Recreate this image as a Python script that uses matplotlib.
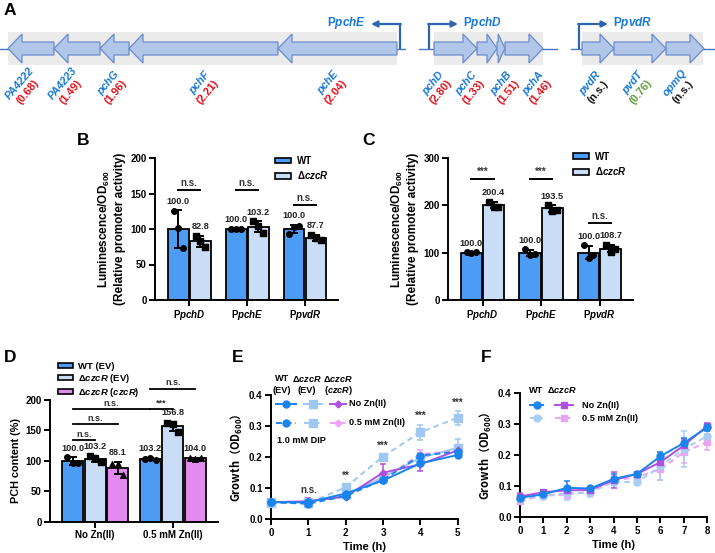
import numpy as np
import matplotlib
matplotlib.use('Agg')
import matplotlib.pyplot as plt
from matplotlib.patches import Polygon, Rectangle, Patch

# ======================= DATA =======================
# Panel A: gene map (map coordinates) and fold changes
gene_names = ['PA4222', 'PA4223', 'pchG', 'pchF', 'pchE',
              'pchD', 'pchC', 'pchB', 'pchA', 'pvdR', 'pvdT', 'opmQ']
gene_start = [8, 54, 100, 129, 278, 434, 477, 497, 505, 582, 614, 666]
gene_end = [54, 100, 129, 278, 397, 477, 497, 505, 543, 614, 666, 704]
gene_strand = [-1, -1, -1, -1, -1, 1, 1, 1, 1, 1, 1, 1]
gene_fold = ['(0.68)', '(1.49)', '(1.96)', '(2.21)', '(2.04)', '(2.80)',
             '(1.33)', '(1.51)', '(1.46)', '(n.s.)', '(0.76)', '(n.s.)']
gene_fold_class = ['sig', 'sig', 'sig', 'sig', 'sig', 'sig',
                   'sig', 'sig', 'sig', 'ns', 'down', 'ns']
operon_line = [(0, 405), (419, 557), (571, 715)]
operon_box = [(8, 397), (434, 543), (582, 703)]
promoter_names = ['pchE', 'pchD', 'pvdR']
promoter_pos = [400, 429, 579]
promoter_dir = [-1, 1, 1]

# Panels B, C: promoter activity
promoters = ['pchD', 'pchE', 'pvdR']
B_wt_mean = [100.0, 100.0, 100.0]
B_mut_mean = [82.8, 103.2, 87.7]
B_wt_pts = [[125.0, 102.0, 73.0], [100.4, 99.6, 100.0], [93.0, 103.0, 104.0]]
B_mut_pts = [[90.0, 83.4, 75.0], [111.0, 103.6, 95.0], [92.0, 87.0, 84.1]]
B_sig = ['n.s.', 'n.s.', 'n.s.']

C_wt_mean = [100.0, 100.0, 100.0]
C_mut_mean = [200.4, 193.5, 108.7]
C_wt_pts = [[100.5, 99.0, 100.5], [107.0, 96.0, 97.0], [116.0, 89.0, 95.0]]
C_mut_pts = [[208.0, 196.0, 197.2], [201.0, 188.5, 191.0], [117.0, 101.0, 108.1]]
C_sig = ['***', '***', 'n.s.']

# Panel D: PCH content
D_conditions = ['No Zn(II)', '0.5 mM Zn(II)']
D_strains = ['WT (EV)', 'Δ$\\it{czcR}$ (EV)', 'Δ$\\it{czcR}$ ($\\it{czcR}$)']
D_means = [[100.0, 103.2], [103.2, 156.8], [88.1, 104.0]]
D_pts = [[[107.0, 97.0, 96.0], [103.5, 105.0, 101.1]],
         [[108.0, 104.0, 97.6], [161.5, 161.0, 148.0]],
         [[94.2, 94.2, 76.0], [104.0, 103.0, 105.0]]]
D_comparisons = [((0, 0), (0, 1), 'n.s.'), ((0, 0), (0, 2), 'n.s.'),
                 ((0, 0), (1, 0), 'n.s.'), ((1, 0), (1, 1), '***'),
                 ((1, 0), (1, 2), 'n.s.')]

# Panel E: growth with 1.0 mM DIP
E_time = [0, 1, 2, 3, 4, 5]
E_wt = [0.055, 0.055, 0.083, 0.125, 0.180, 0.207]
E_wt_sd = [0.003, 0.004, 0.005, 0.008, 0.010, 0.006]
E_wt_zn = [0.055, 0.050, 0.075, 0.127, 0.205, 0.218]
E_wt_zn_sd = [0.003, 0.004, 0.004, 0.006, 0.008, 0.008]
E_ev = [0.055, 0.055, 0.080, 0.135, 0.198, 0.230]
E_ev_sd = [0.003, 0.005, 0.005, 0.008, 0.010, 0.028]
E_ev_zn = [0.054, 0.052, 0.103, 0.202, 0.280, 0.327]
E_ev_zn_sd = [0.003, 0.004, 0.010, 0.008, 0.025, 0.022]
E_cz = [0.055, 0.058, 0.073, 0.150, 0.177, 0.222]
E_cz_sd = [0.003, 0.010, 0.004, 0.027, 0.020, 0.010]
E_cz_zn = [0.055, 0.054, 0.075, 0.130, 0.210, 0.220]
E_cz_zn_sd = [0.003, 0.004, 0.004, 0.006, 0.012, 0.008]
E_sig_time = [1, 2, 3, 4, 5]
E_sig = ['n.s.', '**', '***', '***', '***']

# Panel F: growth
F_time = [0, 1, 2, 3, 4, 5, 6, 7, 8]
F_wt = [0.063, 0.074, 0.095, 0.093, 0.124, 0.140, 0.197, 0.240, 0.290]
F_wt_sd = [0.010, 0.006, 0.022, 0.006, 0.015, 0.005, 0.015, 0.015, 0.012]
F_wt_zn = [0.060, 0.070, 0.077, 0.080, 0.115, 0.113, 0.165, 0.220, 0.262]
F_wt_zn_sd = [0.008, 0.005, 0.020, 0.015, 0.012, 0.008, 0.045, 0.058, 0.020]
F_cz = [0.067, 0.081, 0.087, 0.088, 0.120, 0.140, 0.178, 0.232, 0.295]
F_cz_sd = [0.010, 0.005, 0.010, 0.006, 0.025, 0.006, 0.020, 0.020, 0.010]
F_cz_zn = [0.053, 0.070, 0.073, 0.083, 0.118, 0.130, 0.155, 0.210, 0.243]
F_cz_zn_sd = [0.008, 0.006, 0.010, 0.010, 0.015, 0.008, 0.035, 0.035, 0.025]

# ======================= STYLE =======================
plt.rcParams['font.family'] = ['Liberation Sans', 'DejaVu Sans']
plt.rcParams['font.weight'] = 'bold'
plt.rcParams['axes.labelweight'] = 'bold'
plt.rcParams['mathtext.fontset'] = 'custom'
plt.rcParams['mathtext.rm'] = 'Liberation Sans:bold'
plt.rcParams['mathtext.it'] = 'Liberation Sans:bold:italic'
plt.rcParams['mathtext.bf'] = 'Liberation Sans:bold'
plt.rcParams['mathtext.default'] = 'regular'

C_WT = '#4C9BF5'
C_MUT = '#C9DDF6'
C_COMP = '#E38AF0'
L_WT = '#1A84EE'
L_EV = '#9EC7F2'
L_CZ = '#B14FE0'
L_CZZN = '#EBA5F4'
L_WTZN_F = '#A9CDF3'
GENE_BLUE = '#1878D6'
FOLD_COLORS = {'sig': '#E3101B', 'down': '#5E9C3B', 'ns': '#111111'}
VAL_FS = 6.6
SIG_FS = 7
TICK_FS = 7

W, H = 715, 553
fig = plt.figure(figsize=(W / 100, H / 100), dpi=100)


def px_axes(l, t, r, b):
    return fig.add_axes([l / W, 1 - b / H, (r - l) / W, (b - t) / H])


def style_axes(ax, tick_size=TICK_FS):
    for s in ['top', 'right']:
        ax.spines[s].set_visible(False)
    for s in ['left', 'bottom']:
        ax.spines[s].set_linewidth(1.4)
    ax.tick_params(direction='out', length=4, width=1.4, labelsize=tick_size, pad=2)


# ======================= PANEL A =======================
axA = px_axes(0, 0, W, 120)
axA.set_xlim(0, W)
axA.set_ylim(120, 0)
axA.axis('off')
YC = 48.5
for (x0, x1) in operon_box:
    axA.add_patch(Rectangle((x0, 32), x1 - x0, 33, color='#EBEBEB', lw=0, zorder=0))
for (x0, x1) in operon_line:
    axA.plot([x0, x1], [YC, YC], color='#4A76C5', lw=1.0, zorder=1)


def arrow_poly(x0, x1, strand, bh=6.5, hh=14.5):
    L = x1 - x0
    hl = min(14, 0.5 * L) if L >= 12 else 0.85 * L
    if strand > 0:
        return [(x0, YC - bh), (x1 - hl, YC - bh), (x1 - hl, YC - hh), (x1, YC),
                (x1 - hl, YC + hh), (x1 - hl, YC + bh), (x0, YC + bh)]
    return [(x1, YC - bh), (x0 + hl, YC - bh), (x0 + hl, YC - hh), (x0, YC),
            (x0 + hl, YC + hh), (x0 + hl, YC + bh), (x1, YC + bh)]


label_x = [20, 63, 108, 200, 328, 433, 466, 501, 533, 590, 633, 675]
for i, name in enumerate(gene_names):
    axA.add_patch(Polygon(arrow_poly(gene_start[i], gene_end[i], gene_strand[i]),
                          closed=True, facecolor='#B1C6E8', edgecolor='#6A8CCB',
                          lw=0.9, zorder=2))
    axA.text(label_x[i], 83, name, rotation=50, ha='center', va='center',
             rotation_mode='anchor', fontsize=7.8, fontstyle='italic',
             fontweight='bold', color=GENE_BLUE)
    axA.text(label_x[i] + 8, 92, gene_fold[i], rotation=50, ha='center', va='center',
             rotation_mode='anchor', fontsize=7.8, fontweight='bold',
             color=FOLD_COLORS[gene_fold_class[i]])

for name, x, d in zip(promoter_names, promoter_pos, promoter_dir):
    axA.plot([x, x], [YC, 24], color='#2E64B5', lw=1.6, zorder=3, solid_capstyle='butt')
    axA.annotate('', xy=(x + d * 29, 24), xytext=(x - d * 0.8, 24),
                 arrowprops=dict(arrowstyle='-|>', lw=1.6, color='#2E64B5',
                                 mutation_scale=9, shrinkA=0, shrinkB=0))
    tx = x + d * 34
    axA.text(tx, 23, 'P$\\it{' + name + '}$', ha='left' if d > 0 else 'right',
             va='center', fontsize=8.5, fontweight='bold', color=GENE_BLUE)


# ======================= PANELS B, C =======================
def promoter_panel(ax, wt_mean, mut_mean, wt_pts, mut_pts, sig, sig_y, ymax, ystep,
                   sig_text_off, legend_xy):
    off, bw = 0.19, 0.36
    x = np.arange(len(promoters))
    pt_off = np.array([-0.08, 0.0, 0.08])
    for xi_off, means, pts, col, mk in [(-off, wt_mean, wt_pts, C_WT, 'o'),
                                        (off, mut_mean, mut_pts, C_MUT, 's')]:
        xs = x + xi_off
        ax.bar(xs, means, width=bw, color=col, edgecolor='black', lw=1.3, zorder=2)
        sds = [np.std(p, ddof=1) for p in pts]
        ax.errorbar(xs, means, yerr=sds, fmt='none', ecolor='black', elinewidth=1.4,
                    capsize=3.2, capthick=1.4, zorder=3)
        for i in range(len(x)):
            ax.scatter(xs[i] + pt_off, pts[i], marker=mk, s=16, color='black',
                       zorder=4, clip_on=False)
            top = means[i] + sds[i]
            ax.annotate(f'{means[i]:.1f}', (xs[i], top), xytext=(0, 6.5),
                        textcoords='offset points', ha='center', va='center',
                        fontsize=VAL_FS, fontweight='bold', color='#222222')
    for i in range(len(x)):
        ax.plot([x[i] - off, x[i] + off], [sig_y[i], sig_y[i]], color='black', lw=1.4)
        ax.text(x[i], sig_y[i] + sig_text_off, sig[i], ha='center', va='center',
                fontsize=SIG_FS, fontweight='bold', color='#333333')
    ax.set_xlim(-0.59, 2.57)
    ax.set_ylim(0, ymax)
    ax.set_yticks(np.arange(0, ymax + 1, ystep))
    ax.set_xticks(x)
    ax.set_xticklabels(['P$\\it{' + p + '}$' for p in promoters], fontsize=7.5)
    style_axes(ax)
    ax.set_ylabel('Luminescence/OD$_{600}$\n(Relative promoter activity)',
                  fontsize=8.5, labelpad=3, linespacing=1.3)
    handles = [Patch(facecolor=C_WT, edgecolor='black', lw=1.2, label='WT'),
               Patch(facecolor=C_MUT, edgecolor='black', lw=1.2, label='Δ$\\it{czcR}$')]
    ax.legend(handles=handles, loc='upper left', bbox_to_anchor=legend_xy,
              frameon=False, fontsize=7, handlelength=1.7, handleheight=0.55,
              handletextpad=0.6, labelspacing=0.35, borderpad=0, borderaxespad=0)


axB = px_axes(155, 158, 338, 300)
promoter_panel(axB, B_wt_mean, B_mut_mean, B_wt_pts, B_mut_pts, B_sig,
               [155, 155, 134], 200, 50, 10, (0.655, 1.015))
axC = px_axes(448, 158, 633, 300)
promoter_panel(axC, C_wt_mean, C_mut_mean, C_wt_pts, C_mut_pts, C_sig,
               [256, 256, 163], 300, 100, 14, (0.675, 1.045))

# ======================= PANEL D =======================
axD = px_axes(50, 400, 218, 521.7)
d_off, d_bw = 0.29, 0.27
xg = np.arange(len(D_conditions))
d_cols = [C_WT, C_MUT, C_COMP]
d_marks = ['o', 's', '^']
pt_off = np.array([-0.07, 0.0, 0.07])


def d_x(cond, strain):
    return xg[cond] + (strain - 1) * d_off


for s in range(len(D_strains)):
    xs = xg + (s - 1) * d_off
    sds = [np.std(p, ddof=1) for p in D_pts[s]]
    axD.bar(xs, D_means[s], width=d_bw, color=d_cols[s], edgecolor='black', lw=1.3, zorder=2)
    axD.errorbar(xs, D_means[s], yerr=sds, fmt='none', ecolor='black', elinewidth=1.4,
                 capsize=3, capthick=1.4, zorder=3)
    for c in range(len(D_conditions)):
        axD.scatter(xs[c] + pt_off, D_pts[s][c], marker=d_marks[s], s=16, color='black', zorder=4)
        axD.annotate(f'{D_means[s][c]:.1f}', (xs[c], D_means[s][c] + sds[c]), xytext=(0, 6.5),
                     textcoords='offset points', ha='center', va='center',
                     fontsize=VAL_FS, fontweight='bold', color='#222222')
d_sig_y = [134, 160, 185, 185, 218]
for (a, b, lab), yy in zip(D_comparisons, d_sig_y):
    x0, x1 = d_x(*a), d_x(*b)
    axD.plot([x0, x1], [yy, yy], color='black', lw=1.3, clip_on=False)
    axD.text((x0 + x1) / 2, yy + (3 if lab == '***' else 10), lab, ha='center',
             va='bottom' if lab == '***' else 'center', fontsize=SIG_FS - 0.5,
             fontweight='bold', color='#333333', clip_on=False)
axD.set_xlim(-0.58, 1.58)
axD.set_ylim(0, 200)
axD.set_yticks([0, 50, 100, 150, 200])
axD.set_xticks(xg)
axD.set_xticklabels(D_conditions, fontsize=6.8)
style_axes(axD)
axD.set_ylabel('PCH content (%)', fontsize=7.8, labelpad=3)
handles = [Patch(facecolor=c, edgecolor='black', lw=1.2, label=l) for c, l in zip(d_cols, D_strains)]
axD.legend(handles=handles, loc='upper left', bbox_to_anchor=(0.045, 1.31), frameon=False,
           fontsize=6.8, handlelength=1.6, handleheight=0.45, handletextpad=0.6,
           labelspacing=0.08, borderpad=0, borderaxespad=0)

# ======================= PANEL E =======================
axE = px_axes(271, 395, 457.7, 519.3)
e_series = [
    (E_ev, E_ev_sd, L_EV, 's', '-', 5.5),
    (E_ev_zn, E_ev_zn_sd, L_EV, 's', '--', 5.5),
    (E_cz_zn, E_cz_zn_sd, L_CZZN, 'D', '--', 3.5),
    (E_cz, E_cz_sd, L_CZ, 'D', '-', 3.5),
    (E_wt_zn, E_wt_zn_sd, L_WT, 'o', '--', 5),
    (E_wt, E_wt_sd, L_WT, 'o', '-', 5),
]
for ys, sd, col, mk, ls, ms in e_series:
    axE.errorbar(E_time, ys, yerr=sd, color=col, marker=mk, ms=ms, ls=ls, lw=1.4,
                 elinewidth=1.1, capsize=2.5, capthick=1.1,
                 dashes=(3, 2) if ls == '--' else (None, None), clip_on=False, zorder=3)
all_top = np.max([np.array(s[0]) + np.array(s[1]) for s in e_series], axis=0)
for t, lab in zip(E_sig_time, E_sig):
    axE.text(t, all_top[t] + 0.027, lab, ha='center', va='center', fontsize=SIG_FS,
             fontweight='bold', color='#333333', clip_on=False)
axE.set_xlim(0, 5)
axE.set_ylim(0, 0.4)
axE.set_xticks(E_time)
axE.set_yticks([0.0, 0.1, 0.2, 0.3, 0.4])
axE.set_yticklabels(['0.0', '0.1', '0.2', '0.3', '0.4'])
style_axes(axE)
axE.set_xlabel('Time (h)', fontsize=8, labelpad=3)
axE.set_ylabel('Growth（OD$_{600}$）', fontsize=8, labelpad=3,
               fontfamily='Noto Sans CJK SC', fontweight='bold')


def legend_row(ax, x0, x1, y, col, mk, ls, ms):
    ax.plot([x0, (x0 + x1) / 2, x1], [y, y, y], color=col, ls=ls, lw=1.4, marker=mk,
            ms=ms, markevery=[1], clip_on=False, dashes=(3, 2) if ls == '--' else (None, None))


LEG_FS = 6.6
for ls, yrow, txt in [('-', 0.372, 'No Zn(II)'), ('--', 0.311, '0.5 mM Zn(II)')]:
    legend_row(axE, 0.13, 0.67, yrow, L_WT, 'o', ls, 5)
    legend_row(axE, 0.88, 1.37, yrow, L_EV, 's', ls, 5.5)
    legend_row(axE, 1.58, 2.0, yrow, L_CZ if ls == '-' else L_CZZN, 'D', ls, 3.5)
    axE.text(2.1, yrow, txt, ha='left', va='center', fontsize=LEG_FS, fontweight='bold')
for xh, l1, l2 in [(0.29, 'WT', '(EV)'), (0.97, 'Δ$\\it{czcR}$', '(EV)'),
                   (1.8, 'Δ$\\it{czcR}$', '($\\it{czcR}$)')]:
    axE.text(xh, 0.452, l1, ha='center', va='center', fontsize=LEG_FS, fontweight='bold', clip_on=False)
    axE.text(xh, 0.414, l2, ha='center', va='center', fontsize=LEG_FS, fontweight='bold', clip_on=False)
axE.text(0.16, 0.253, '1.0 mM DIP', ha='left', va='center', fontsize=LEG_FS, fontweight='bold')

# ======================= PANEL F =======================
axF = px_axes(520, 393.3, 707.3, 517.3)
f_series = [
    (F_cz_zn, F_cz_zn_sd, L_CZZN, 's', '--', 5),
    (F_wt_zn, F_wt_zn_sd, L_WTZN_F, 'o', '--', 5),
    (F_cz, F_cz_sd, L_CZ, 's', '-', 5),
    (F_wt, F_wt_sd, L_WT, 'o', '-', 5),
]
for ys, sd, col, mk, ls, ms in f_series:
    axF.errorbar(F_time, ys, yerr=sd, color=col, marker=mk, ms=ms, ls=ls, lw=1.4,
                 elinewidth=1.1, capsize=2.5, capthick=1.1,
                 dashes=(3, 2) if ls == '--' else (None, None), clip_on=False, zorder=3)
axF.set_xlim(0, 8)
axF.set_ylim(0, 0.4)
axF.set_xticks(F_time)
axF.set_yticks([0.0, 0.1, 0.2, 0.3, 0.4])
axF.set_yticklabels(['0.0', '0.1', '0.2', '0.3', '0.4'])
style_axes(axF)
axF.set_xlabel('Time (h)', fontsize=8, labelpad=3)
axF.set_ylabel('Growth（OD$_{600}$）', fontsize=8, labelpad=3,
               fontfamily='Noto Sans CJK SC', fontweight='bold')
for ls, yrow, txt, cz in [('-', 0.362, 'No Zn(II)', L_CZ), ('--', 0.319, '0.5 mM Zn(II)', L_CZZN)]:
    legend_row(axF, 0.43, 0.98, yrow, L_WT if ls == '-' else L_WTZN_F, 'o', ls, 5)
    legend_row(axF, 1.5, 2.26, yrow, cz, 's', ls, 5)
    axF.text(2.65, yrow, txt, ha='left', va='center', fontsize=LEG_FS, fontweight='bold')
axF.text(0.68, 0.41, 'WT', ha='center', va='center', fontsize=LEG_FS, fontweight='bold', clip_on=False)
axF.text(1.8, 0.41, 'Δ$\\it{czcR}$', ha='center', va='center', fontsize=LEG_FS, fontweight='bold', clip_on=False)

# ======================= PANEL LETTERS =======================
for lab, x, y in [('A', 4, 3), ('B', 77, 133), ('C', 362, 133), ('D', 4, 350),
                  ('E', 232, 350), ('F', 481, 350)]:
    fig.text(x / W, 1 - y / H, lab, ha='left', va='top', fontsize=12.5, fontweight='bold')

fig.savefig('out.png', dpi=100)
